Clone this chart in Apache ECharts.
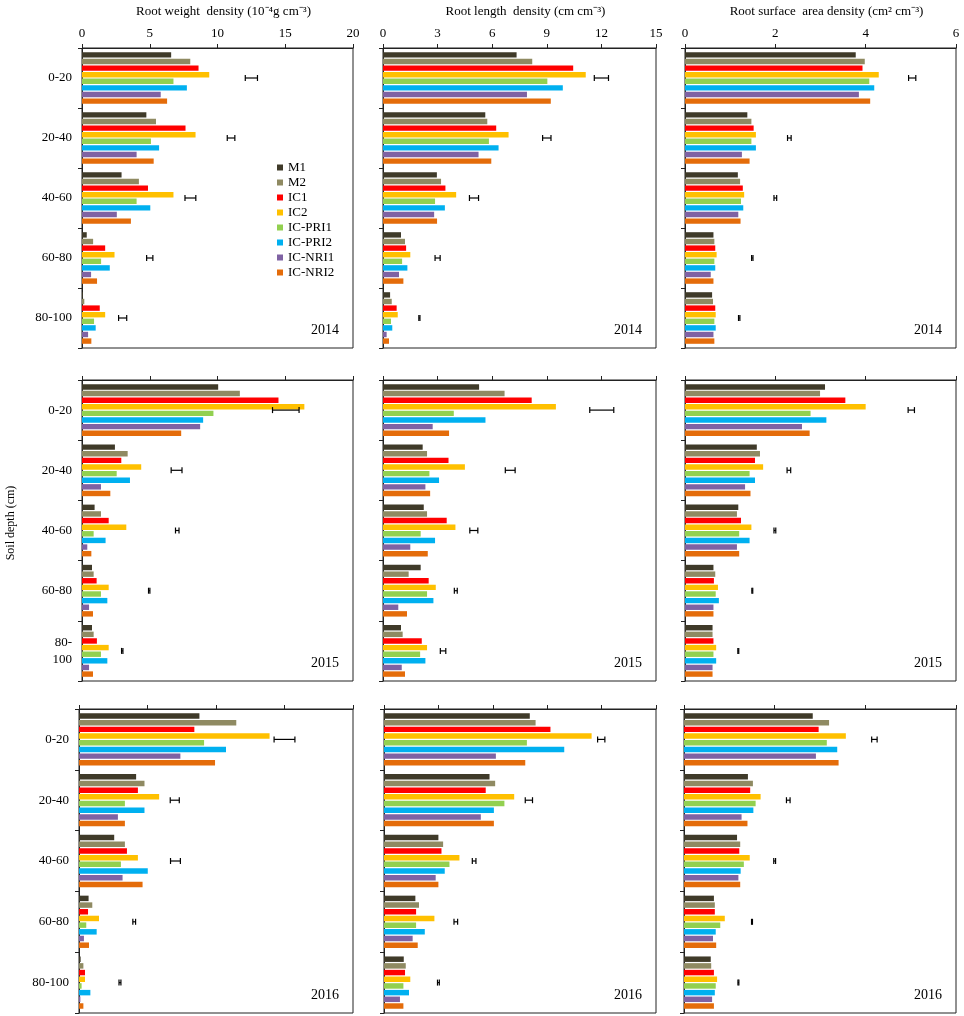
<!DOCTYPE html>
<html>
<head>
<meta charset="utf-8">
<script src="https://cdn.jsdelivr.net/npm/echarts@6/dist/echarts.min.js"></script>
<style>
html, body { margin: 0; padding: 0; background: #fff; }
#main { width: 964px; height: 1016px; }
</style>
</head>
<body>
<div id="main"></div>
<script>
// categories
var depths = ['0-20', '20-40', '40-60', '60-80', '80-100'];
var depths2015 = ['0-20', '20-40', '40-60', '60-80', '80-\n100'];
var treatments = ['M1', 'M2', 'IC1', 'IC2', 'IC-PRI1', 'IC-PRI2', 'IC-NRI1', 'IC-NRI2'];
var years = ['2014', '2015', '2016'];
var colors = ['#3f3a29', '#8f8a62', '#ff0000', '#ffc000', '#92d050', '#00b0f0', '#7f62a3', '#e46c0a'];

// x axis ticks per column
var xMax = [20, 15, 6];
var xStep = [5, 3, 2];

// values: one row per depth, one column per treatment
var rwd2014 = [
    [6.58, 7.99, 8.6, 9.39, 6.75, 7.74, 5.81, 6.28],
    [4.75, 5.46, 7.64, 8.38, 5.09, 5.69, 4.03, 5.29],
    [2.92, 4.2, 4.87, 6.75, 4.03, 5.04, 2.57, 3.61],
    [0.35, 0.82, 1.71, 2.4, 1.41, 2.05, 0.67, 1.11],
    [0.07, 0.17, 1.31, 1.71, 0.89, 1.01, 0.45, 0.69]
];
var rld2014 = [
    [7.34, 8.2, 10.45, 11.14, 9.03, 9.88, 7.91, 9.22],
    [5.62, 5.73, 6.22, 6.9, 5.82, 6.35, 5.25, 5.95],
    [2.96, 3.19, 3.43, 4.02, 2.86, 3.4, 2.81, 2.97],
    [0.99, 1.21, 1.27, 1.5, 1.05, 1.34, 0.88, 1.12],
    [0.39, 0.48, 0.75, 0.81, 0.44, 0.51, 0.2, 0.33]
];
var rsad2014 = [
    [3.78, 3.98, 3.93, 4.29, 4.08, 4.19, 3.85, 4.1],
    [1.38, 1.47, 1.52, 1.57, 1.47, 1.57, 1.26, 1.43],
    [1.17, 1.22, 1.28, 1.31, 1.24, 1.29, 1.18, 1.23],
    [0.63, 0.65, 0.67, 0.7, 0.65, 0.67, 0.57, 0.63],
    [0.6, 0.62, 0.67, 0.68, 0.65, 0.68, 0.63, 0.65]
];
var rwd2015 = [
    [10.05, 11.65, 14.5, 16.41, 9.7, 8.94, 8.72, 7.32],
    [2.43, 3.37, 2.9, 4.37, 2.56, 3.54, 1.4, 2.09],
    [0.93, 1.4, 1.97, 3.27, 0.86, 1.74, 0.39, 0.69],
    [0.74, 0.86, 1.08, 1.97, 1.4, 1.87, 0.52, 0.81],
    [0.74, 0.86, 1.1, 1.97, 1.4, 1.87, 0.52, 0.81]
];
var rld2015 = [
    [5.28, 6.68, 8.17, 9.5, 3.89, 5.63, 2.73, 3.63],
    [2.18, 2.42, 3.6, 4.5, 2.55, 3.08, 2.33, 2.59],
    [2.24, 2.42, 3.5, 3.98, 2.07, 2.86, 1.5, 2.46],
    [2.07, 1.41, 2.51, 2.9, 2.42, 2.77, 0.84, 1.32],
    [0.99, 1.08, 2.13, 2.42, 2.04, 2.33, 1.03, 1.21]
];
var rsad2015 = [
    [3.1, 2.99, 3.55, 4.0, 2.78, 3.13, 2.59, 2.76],
    [1.59, 1.66, 1.55, 1.73, 1.43, 1.55, 1.33, 1.45],
    [1.18, 1.15, 1.24, 1.47, 1.2, 1.43, 1.15, 1.2],
    [0.63, 0.67, 0.64, 0.73, 0.68, 0.75, 0.63, 0.63],
    [0.61, 0.61, 0.63, 0.69, 0.63, 0.69, 0.61, 0.61]
];
var rwd2016 = [
    [8.79, 11.48, 8.42, 13.91, 9.13, 10.73, 7.4, 9.93],
    [4.17, 4.78, 4.3, 5.85, 3.35, 4.78, 2.84, 3.35],
    [2.57, 3.35, 3.5, 4.3, 3.06, 5.02, 3.18, 4.64],
    [0.7, 0.97, 0.66, 1.46, 0.53, 1.29, 0.36, 0.73],
    [0.12, 0.32, 0.44, 0.44, 0.19, 0.83, 0.1, 0.32]
];
var rld2016 = [
    [8.04, 8.36, 9.18, 11.45, 7.88, 9.94, 6.17, 7.79],
    [5.82, 6.13, 5.61, 7.18, 6.64, 6.06, 5.34, 6.06],
    [3.0, 3.26, 3.17, 4.16, 3.61, 3.35, 2.85, 3.0],
    [1.73, 1.93, 1.77, 2.78, 1.77, 2.25, 1.58, 1.86],
    [1.09, 1.2, 1.16, 1.45, 1.07, 1.38, 0.88, 1.07]
];
var rsad2016 = [
    [2.84, 3.2, 2.97, 3.57, 3.15, 3.38, 2.91, 3.41],
    [1.41, 1.52, 1.46, 1.69, 1.58, 1.53, 1.27, 1.4],
    [1.17, 1.24, 1.22, 1.45, 1.32, 1.25, 1.2, 1.24],
    [0.66, 0.68, 0.68, 0.9, 0.8, 0.7, 0.64, 0.71],
    [0.59, 0.6, 0.66, 0.73, 0.7, 0.68, 0.62, 0.66]
];

// LSD bars: centre and half length per depth
var rwd2014Lsd = [12.5, 11.0, 8.0, 5.0, 3.0];
var rwd2014Half = [0.45, 0.28, 0.4, 0.23, 0.3];
var rld2014Lsd = [12.0, 9.0, 5.0, 3.0, 2.0];
var rld2014Half = [0.39, 0.23, 0.25, 0.14, 0.03];
var rsad2014Lsd = [5.03, 2.31, 2.0, 1.49, 1.2];
var rsad2014Half = [0.08, 0.04, 0.03, 0.015, 0.015];
var rwd2015Lsd = [15.04, 6.98, 7.03, 4.96, 2.97];
var rwd2015Half = [0.98, 0.4, 0.13, 0.05, 0.05];
var rld2015Lsd = [12.02, 6.99, 4.99, 4.0, 3.3];
var rld2015Half = [0.66, 0.27, 0.22, 0.08, 0.15];
var rsad2015Lsd = [5.01, 2.3, 1.99, 1.49, 1.18];
var rsad2015Half = [0.07, 0.04, 0.02, 0.01, 0.01];
var rwd2016Lsd = [15.0, 6.99, 7.04, 4.03, 2.99];
var rwd2016Half = [0.76, 0.33, 0.36, 0.1, 0.07];
var rld2016Lsd = [11.98, 7.99, 4.97, 3.96, 3.0];
var rld2016Half = [0.2, 0.2, 0.1, 0.1, 0.05];
var rsad2016Lsd = [4.2, 2.3, 2.0, 1.5, 1.2];
var rsad2016Half = [0.06, 0.04, 0.02, 0.01, 0.01];

var panelValues = [
    [rwd2014, rld2014, rsad2014],
    [rwd2015, rld2015, rsad2015],
    [rwd2016, rld2016, rsad2016]
];
var panelLsd = [
    [[rwd2014Lsd, rwd2014Half], [rld2014Lsd, rld2014Half], [rsad2014Lsd, rsad2014Half]],
    [[rwd2015Lsd, rwd2015Half], [rld2015Lsd, rld2015Half], [rsad2015Lsd, rsad2015Half]],
    [[rwd2016Lsd, rwd2016Half], [rld2016Lsd, rld2016Half], [rsad2016Lsd, rsad2016Half]]
];

var serif = "'Liberation Serif', 'Times New Roman', serif";

// layout
var colLeft = [[82, 383, 685], [82, 383, 685], [79, 384, 684]];
var colWidth = [[271, 273, 271], [271, 273, 271], [274, 272, 272]];
var rowTop = [48, 380, 709];
var rowHeight = [300, 301, 304];

function lsdItem(params, api) {
    var cat = api.value(1);
    var c = api.value(0);
    var h = api.value(2);
    var p1 = api.coord([c - h, cat]);
    var p2 = api.coord([c + h, cat]);
    var y = p1[1];
    var cap = 3;
    var st = {stroke: '#000', lineWidth: 1.2};
    return {
        type: 'group',
        children: [
            {type: 'line', shape: {x1: p1[0], y1: y, x2: p2[0], y2: y}, style: st},
            {type: 'line', shape: {x1: p1[0], y1: y - cap, x2: p1[0], y2: y + cap}, style: st},
            {type: 'line', shape: {x1: p2[0], y1: y - cap, x2: p2[0], y2: y + cap}, style: st}
        ]
    };
}

var grids = [], xAxes = [], yAxes = [], series = [], graphics = [];

for (var r = 0; r < 3; r++) {
    for (var c = 0; c < 3; c++) {
        var i = r * 3 + c;
        var left = colLeft[r][c], width = colWidth[r][c];
        grids.push({
            left: left, top: rowTop[r], width: width, height: rowHeight[r],
            show: true, borderColor: '#222', borderWidth: 1, backgroundColor: 'transparent'
        });
        xAxes.push({
            gridIndex: i, type: 'value', position: 'top',
            min: 0, max: xMax[c], interval: xStep[c],
            axisLine: {show: true, lineStyle: {color: '#222', width: 1}},
            axisTick: {show: true, length: 4, lineStyle: {color: '#222'}},
            axisLabel: {show: r === 0, color: '#000', fontFamily: serif, fontSize: 13, margin: 8},
            splitLine: {show: false}
        });
        yAxes.push({
            gridIndex: i, type: 'category', inverse: true,
            data: r === 1 ? depths2015 : depths,
            axisLine: {show: true, lineStyle: {color: '#222', width: 1}},
            axisTick: {show: true, length: 4, lineStyle: {color: '#222'}},
            axisLabel: {show: c === 0, color: '#000', fontFamily: serif, fontSize: 13, margin: 10, lineHeight: 17}
        });
        var vals = panelValues[r][c];
        for (var k = 0; k < treatments.length; k++) {
            series.push({
                type: 'bar', name: treatments[k],
                xAxisIndex: i, yAxisIndex: i,
                data: vals.map(function (row) { return row[k]; }),
                itemStyle: {color: colors[k]},
                barGap: '22%', barCategoryGap: '14%'
            });
        }
        var lsd = panelLsd[r][c];
        series.push({
            type: 'custom', name: 'LSD',
            xAxisIndex: i, yAxisIndex: i,
            encode: {x: 0, y: 1},
            data: lsd[0].map(function (v, j) { return [v, j, lsd[1][j]]; }),
            renderItem: lsdItem, z: 10
        });
        graphics.push({
            type: 'text',
            x: left + width - 14,
            y: rowTop[r] + rowHeight[r] - 18,
            style: {text: years[r], align: 'right', verticalAlign: 'middle', font: '14px ' + serif, fill: '#000'}
        });
    }
}

var titles = [
    'Root weight  density (10\u207B\u2074g cm\u207B\u00B3)',
    'Root length  density (cm cm\u207B\u00B3)',
    'Root surface  area density (cm\u00B2 cm\u207B\u00B3)'
];
titles.forEach(function (t, c) {
    graphics.push({
        type: 'text',
        x: colLeft[0][c] + colWidth[0][c] / 2 + 6,
        y: 12,
        style: {text: t, align: 'center', verticalAlign: 'middle', font: '13px ' + serif, fill: '#000'}
    });
});
graphics.push({
    type: 'text', x: 11, y: 523, rotation: Math.PI / 2,
    style: {text: 'Soil depth (cm)', align: 'center', verticalAlign: 'middle', font: '12px ' + serif, fill: '#000'}
});

var chart = echarts.init(document.getElementById('main'));
chart.setOption({
    animation: false,
    backgroundColor: '#fff',
    textStyle: {fontFamily: serif},
    legend: {
        orient: 'vertical', left: 277, top: 161, padding: 0,
        itemWidth: 6, itemHeight: 6, itemGap: 2, icon: 'rect',
        data: treatments,
        textStyle: {fontFamily: serif, fontSize: 13, color: '#000'}
    },
    grid: grids,
    xAxis: xAxes,
    yAxis: yAxes,
    series: series,
    graphic: graphics
});
</script>
</body>
</html>
